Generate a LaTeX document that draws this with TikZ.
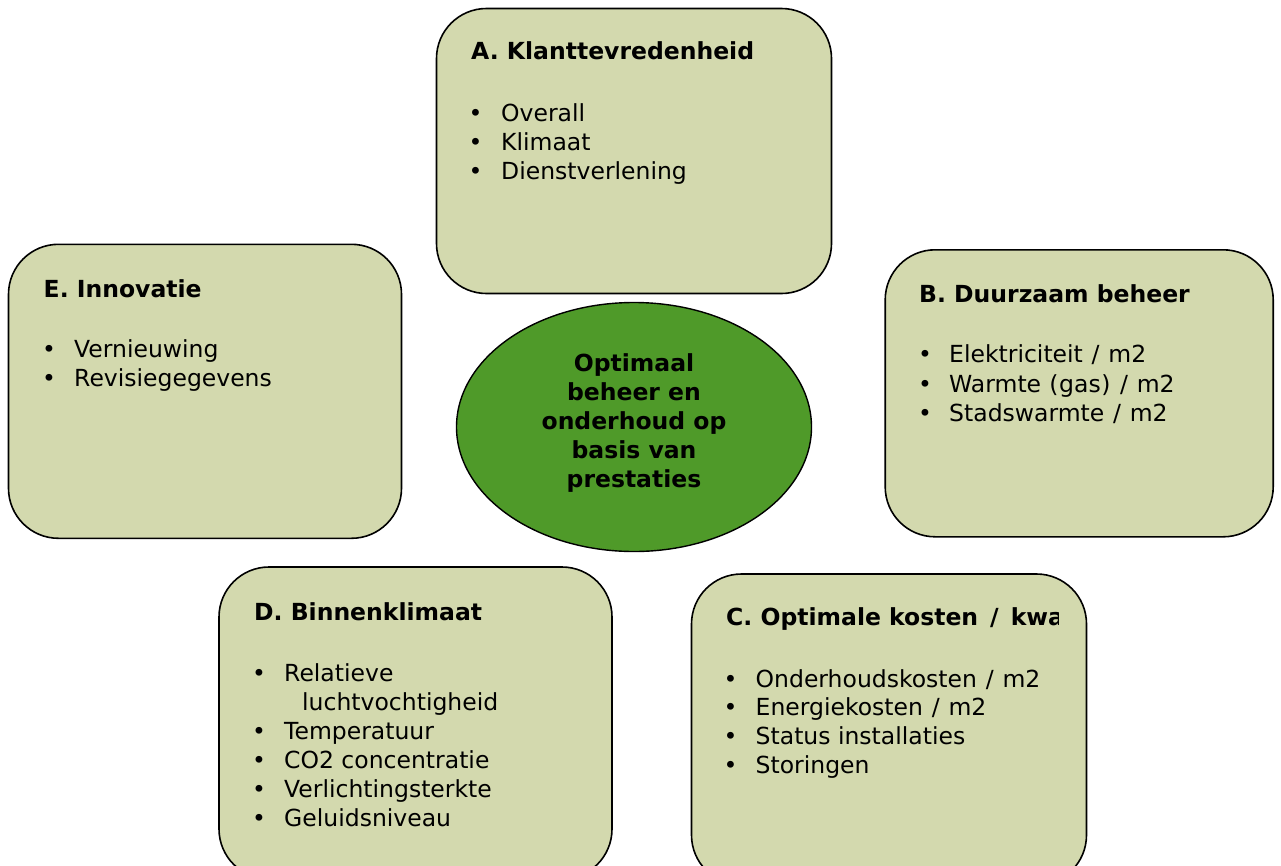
\documentclass[tikz,border=0pt]{standalone}
\usepackage{fontspec}
\setmainfont{DejaVu Sans}
\usetikzlibrary{shapes.geometric}
\definecolor{boxfill}{HTML}{D3D9AE}
\definecolor{centerfill}{HTML}{4F9A29}
\newcommand{\wsl}[1]{\makebox[#1em]{/}}
\newcommand{\wpl}{\makebox[0.45em]{(}}
\newcommand{\wpr}{\makebox[0.45em]{)}}
\tikzset{
  pane/.style={draw=black, line width=1.6pt, fill=boxfill, rounded corners=50pt, rectangle, inner sep=0pt},
  hub/.style={draw=black, line width=1.4pt, fill=centerfill, ellipse, inner sep=0pt},
  ttl/.style={anchor=base west, inner sep=0pt, font=\fontsize{23.5}{28.8}\selectfont\bfseries},
  itm/.style={anchor=base west, inner sep=0pt, font=\fontsize{23.5}{28.8}\selectfont},
  bul/.style={anchor=base, inner sep=0pt, font=\fontsize{23.5}{28.8}\selectfont},
  hubtxt/.style={align=center, inner sep=0pt, font=\fontsize{23.5}{28.8}\selectfont\bfseries}
}
\begin{document}
\begin{tikzpicture}[x=1pt,y=-1pt]
\clip (0,0) rectangle (1281,865);
\fill[white] (0,0) rectangle (1281,865);

% boxes
\node[pane, minimum width=395pt, minimum height=285pt] (A) at (634,151) {};
\node[pane, minimum width=393pt, minimum height=294pt] (E) at (205,391.3) {};
\node[pane, minimum width=388pt, minimum height=287pt] (B) at (1079.2,393.3) {};
\node[pane, minimum width=393pt, minimum height=312pt] (D) at (415.5,723) {};
\node[pane, minimum width=395pt, minimum height=311pt] (C) at (889,729.5) {};

% center
\node[hub, minimum width=355pt, minimum height=249pt] (M) at (634,427) {};
\node[hubtxt] (Mt) at (634,423) {Optimaal\\beheer en\\onderhoud op\\basis van\\prestaties};

% A
\node[ttl] (At) at (471,59) {A. Klanttevredenheid};
\node[bul] (Ab1) at (475.5,121) {•}; \node[itm] (A1) at (501,121) {Overall};
\node[bul] (Ab2) at (475.5,150) {•}; \node[itm] (A2) at (501,150) {Klimaat};
\node[bul] (Ab3) at (475.5,179) {•}; \node[itm] (A3) at (501,179) {Dienstverlening};

% E
\node[ttl] (Et) at (43.5,297) {E. Innovatie};
\node[bul] (Eb1) at (49,357) {•}; \node[itm] (E1) at (74,357) {Vernieuwing};
\node[bul] (Eb2) at (49,386.5) {•}; \node[itm] (E2) at (74,386.5) {Revisiegegevens};

% B
\node[ttl] (Bt) at (919,302.5) {B. Duurzaam beheer};
\node[bul] (Bb1) at (925,362.5) {•}; \node[itm] (B1) at (949,362.5) {Elektriciteit \wsl{0.45} m2};
\node[bul] (Bb2) at (925,392) {•}; \node[itm] (B2) at (949,392) {Warmte \wpl gas\wpr{} \wsl{0.45} m2};
\node[bul] (Bb3) at (925,421) {•}; \node[itm] (B3) at (949,421) {Stadswarmte \wsl{0.45} m2};

% D
\node[ttl] (Dt) at (254,620) {D. Binnenklimaat};
\node[bul] (Db1) at (259,681.5) {•}; \node[itm] (D1) at (284,681.5) {Relatieve};
\node[itm] (D1b) at (302,710.5) {luchtvochtigheid};
\node[bul] (Db2) at (259,739.5) {•}; \node[itm] (D2) at (284,739.5) {Temperatuur};
\node[bul] (Db3) at (259,768.5) {•}; \node[itm] (D3) at (284,768.5) {CO2 concentratie};
\node[bul] (Db4) at (259,797.5) {•}; \node[itm] (D4) at (284,797.5) {Verlichtingsterkte};
\node[bul] (Db5) at (259,826.5) {•}; \node[itm] (D5) at (284,826.5) {Geluidsniveau};

% C
\begin{scope}
\clip (692,580) rectangle (1058,660);
\node[ttl] (Ct) at (726,625) {C. Optimale kosten \wsl{0.69} kwaliteit};
\end{scope}
\node[bul] (Cb1) at (730.5,687) {•}; \node[itm] (C1) at (755.5,687) {Onderhoudskosten \wsl{0.45} m2};
\node[bul] (Cb2) at (730.5,715.5) {•}; \node[itm] (C2) at (755.5,715.5) {Energiekosten \wsl{0.45} m2};
\node[bul] (Cb3) at (730.5,744.5) {•}; \node[itm] (C3) at (755.5,744.5) {Status installaties};
\node[bul] (Cb4) at (730.5,773.5) {•}; \node[itm] (C4) at (755.5,773.5) {Storingen};
\end{tikzpicture}
\end{document}
